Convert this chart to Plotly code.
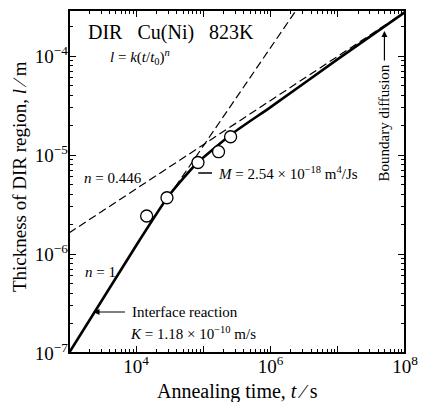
import plotly.graph_objects as go

# ---- data ----
curve_t = [1e3, 1e4, 2.9e4, 5e4, 8.2e4, 2.77e5, 1e6, 1e7, 1e8]
curve_l = [1.0e-7, 1.22e-6, 3.7e-6, 5.8e-6, 8.4e-6, 1.67e-5, 3.05e-5, 9.3e-5, 2.78e-4]

dash446_t = [1e3, 1e8]
dash446_l = [1.63e-6, 2.78e-4]

dash1_t = [3.0e4, 3.4e6]
dash1_l = [3.75e-6, 4.1e-4]

pts_t = [1.43e4, 2.87e4, 8.3e4, 1.68e5, 2.54e5]
pts_l = [2.42e-6, 3.7e-6, 8.4e-6, 1.08e-5, 1.53e-5]

x_tickvals = [1e3, 1e4, 1e5, 1e6, 1e7, 1e8]
x_ticktext = [" ", "10<sup>4</sup>", " ", "10<sup>6</sup>", " ", "10<sup>8</sup>"]
y_tickvals = [1e-7, 1e-6, 1e-5, 1e-4]
y_ticktext = ["10<sup>−7</sup>", "10<sup>−6</sup>", "10<sup>−5</sup>", "10<sup>−4</sup>"]

x_minor = [m * 10.0 ** e for e in range(3, 8) for m in range(2, 10)]
y_minor = [m * 10.0 ** e for e in range(-7, -3) for m in range(2, 10)]

FONT = "Liberation Serif"
W, H = 428, 402
L, R, T, B = 69, 412, 10, 353

def px(x):
    return (x - L) / (R - L)

def py(y):
    return (B - y) / (B - T)

fig = go.Figure()
fig.add_trace(go.Scatter(x=dash446_t, y=dash446_l, mode="lines",
                         line=dict(color="black", width=1.2, dash="8px,4px"),
                         showlegend=False))
fig.add_trace(go.Scatter(x=dash1_t, y=dash1_l, mode="lines",
                         line=dict(color="black", width=1.2, dash="8px,4px"),
                         showlegend=False))
fig.add_trace(go.Scatter(x=curve_t, y=curve_l, mode="lines",
                         line=dict(color="black", width=2.6, shape="spline", smoothing=0.6),
                         showlegend=False))
fig.add_trace(go.Scatter(x=pts_t, y=pts_l, mode="markers",
                         marker=dict(symbol="circle", size=12, color="white",
                                     line=dict(color="black", width=1.3)),
                         showlegend=False))

axis_common = dict(
    type="log", showgrid=False, zeroline=False,
    showline=False, mirror="allticks",
    ticks="inside", ticklen=7, tickwidth=1, tickcolor="black",
    tickfont=dict(family=FONT, size=19, color="black"),
)
fig.update_xaxes(range=[3, 8], tickmode="array", tickvals=x_tickvals,
                 ticktext=x_ticktext,
                 minor=dict(ticks="inside", ticklen=4, tickwidth=1, tickcolor="black",
                            tickmode="array", tickvals=x_minor, showgrid=False),
                 **axis_common)
fig.update_yaxes(range=[-7, -3.535], tickmode="array", tickvals=y_tickvals,
                 ticktext=y_ticktext,
                 minor=dict(ticks="inside", ticklen=4, tickwidth=1, tickcolor="black",
                            tickmode="array", tickvals=y_minor, showgrid=False),
                 **axis_common)

ann = []
def text(x, y, s, size, xanchor="left", textangle=0):
    ann.append(dict(xref="paper", yref="paper", x=px(x), y=py(y), text=s,
                    showarrow=False, xanchor=xanchor, yanchor="middle",
                    textangle=textangle,
                    font=dict(family=FONT, size=size, color="black")))

text(86, 32, "DIR&nbsp;&nbsp;&nbsp;Cu(Ni)&nbsp;&nbsp;&nbsp;823K", 20)
text(109, 57, "<i>l</i> = <i>k</i>(<i>t</i>/<i>t</i><sub>0</sub>)<sup><i>n</i></sup>", 15)
text(82, 178, "<i>n</i> = 0.446", 15)
text(83, 272, "<i>n</i> = 1", 15)
text(219, 173, "<i>M</i> = 2.54 × 10<sup>−18</sup> m<sup>4</sup>/Js", 15)
text(131, 312, "Interface reaction", 15)
text(129, 333, "<i>K</i> = 1.18 × 10<sup>−10</sup> m/s", 15)
text(391, 123, "Boundary diffusion", 15, xanchor="center", textangle=-90)

# axis titles
ann.append(dict(xref="paper", yref="paper", x=0.5, y=py(391), text="Annealing time, <i>t</i> ∕ s",
                showarrow=False, xanchor="center", yanchor="middle",
                font=dict(family=FONT, size=20, color="black")))
ann.append(dict(xref="paper", yref="paper", x=px(18), y=py(177),
                text="Thickness of DIR region, <i>l</i> ∕ m",
                showarrow=False, xanchor="center", yanchor="middle", textangle=-90,
                font=dict(family=FONT, size=19, color="black")))

# arrows
ann.append(dict(xref="paper", yref="paper", x=px(94), y=py(312), ax=33, ay=0,
                text="", showarrow=True, arrowhead=2, arrowsize=1, arrowwidth=1.2,
                arrowcolor="black"))
ann.append(dict(xref="paper", yref="paper", x=px(391), y=py(31), ax=0, ay=31,
                text="", showarrow=True, arrowhead=2, arrowsize=1, arrowwidth=1.2,
                arrowcolor="black"))

fig.update_layout(
    width=W, height=H,
    margin=dict(l=L, r=W - R, t=T, b=H - B, pad=0),
    paper_bgcolor="white", plot_bgcolor="white",
    annotations=ann,
    shapes=[
        dict(type="line", xref="paper", yref="paper",
             x0=px(201), x1=px(215), y0=py(173), y1=py(173),
             line=dict(color="black", width=1.5)),
        dict(type="rect", xref="paper", yref="paper", x0=0, x1=1, y0=0, y1=1,
             line=dict(color="black", width=2), layer="above"),
    ],
)

fig.write_html("out.html")
